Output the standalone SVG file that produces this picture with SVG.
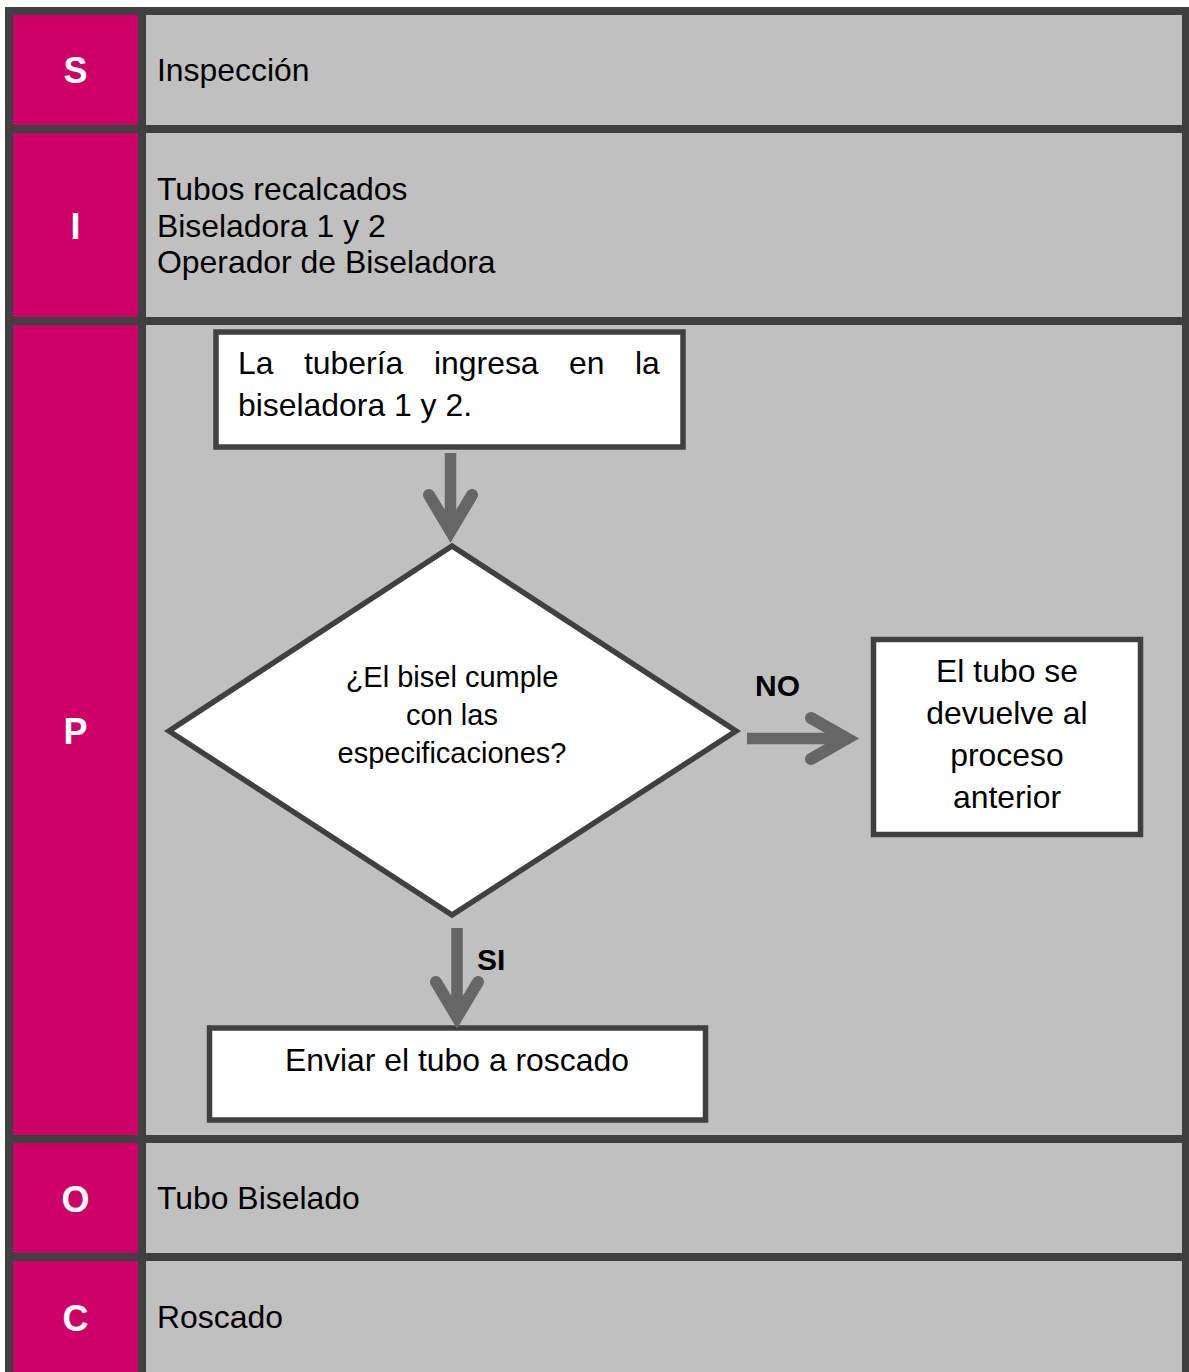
<svg xmlns="http://www.w3.org/2000/svg" width="1189" height="1372" viewBox="0 0 1189 1372">
  <style>
    .frame { fill: #404040; }
    .tag { fill: #CC0066; }
    .cell { fill: #C0C0C0; }
    .tagtxt { font-family: "Liberation Sans", Arial, sans-serif; font-weight: bold; font-size: 36px; fill: #FFFFFF; text-anchor: middle; }
    .celltxt { font-family: "Liberation Sans", Arial, sans-serif; font-size: 31.9px; fill: #000000; }
    .box { fill: #FFFFFF; stroke: #404040; stroke-width: 5.5; }
    .boxtxt { font-family: "Liberation Sans", Arial, sans-serif; font-size: 31.9px; fill: #000000; }
    .dtxt { font-family: "Liberation Sans", Arial, sans-serif; font-size: 29px; fill: #000000; text-anchor: middle; }
    .lbl { font-family: "Liberation Sans", Arial, sans-serif; font-weight: bold; font-size: 30px; fill: #000000; }
    .shaft { stroke: #666666; stroke-width: 11.5; fill: none; }
    .head { stroke: #666666; stroke-width: 12; fill: none; stroke-linecap: round; stroke-linejoin: miter; stroke-miterlimit: 10; }
  </style>

  <!-- SIPOC frame -->
  <rect class="frame" x="5" y="7" width="1184" height="1365"/>

  <g id="row-s">
    <rect class="tag" x="13" y="15" width="125" height="110"/>
    <rect class="cell" x="146" y="15" width="1036" height="110"/>
    <text class="tagtxt" x="75.5" y="83">S</text>
    <text class="celltxt" x="157" y="81">Inspección</text>
  </g>

  <g id="row-i">
    <rect class="tag" x="13" y="133" width="125" height="184"/>
    <rect class="cell" x="146" y="133" width="1036" height="184"/>
    <text class="tagtxt" x="75.5" y="239">I</text>
    <text class="celltxt" x="157" y="200">Tubos recalcados</text>
    <text class="celltxt" x="157" y="237">Biseladora 1 y 2</text>
    <text class="celltxt" x="157" y="273">Operador de Biseladora</text>
  </g>

  <g id="row-p">
    <rect class="tag" x="13" y="325" width="125" height="810"/>
    <rect class="cell" x="146" y="325" width="1036" height="810"/>
    <text class="tagtxt" x="75.5" y="744">P</text>
  </g>

  <g id="row-o">
    <rect class="tag" x="13" y="1143" width="125" height="110"/>
    <rect class="cell" x="146" y="1143" width="1036" height="110"/>
    <text class="tagtxt" x="75.5" y="1212">O</text>
    <text class="celltxt" x="157" y="1209">Tubo Biselado</text>
  </g>

  <g id="row-c">
    <rect class="tag" x="13" y="1261" width="125" height="111"/>
    <rect class="cell" x="146" y="1261" width="1036" height="111"/>
    <text class="tagtxt" x="75.5" y="1331">C</text>
    <text class="celltxt" x="157" y="1328">Roscado</text>
  </g>

  <!-- process flow -->
  <g id="step-ingreso">
    <rect class="box" x="216" y="332" width="467" height="115"/>
    <text class="boxtxt" y="374">
      <tspan x="238">La</tspan>
      <tspan x="304">tubería</tspan>
      <tspan x="434">ingresa</tspan>
      <tspan x="569">en</tspan>
      <tspan x="635">la</tspan>
    </text>
    <text class="boxtxt" x="238" y="416">biseladora 1 y 2.</text>
  </g>

  <g id="decision-bisel">
    <polygon class="box" points="452,546 736,731 452,915 169,731"/>
    <text class="dtxt" x="452" y="687">¿El bisel cumple</text>
    <text class="dtxt" x="452" y="725">con las</text>
    <text class="dtxt" x="452" y="763">especificaciones?</text>
  </g>

  <g id="step-devuelve">
    <rect class="box" x="873.5" y="639.5" width="267" height="195"/>
    <text class="boxtxt" x="1007" y="682" text-anchor="middle">El tubo se</text>
    <text class="boxtxt" x="1007" y="724" text-anchor="middle">devuelve al</text>
    <text class="boxtxt" x="1007" y="766" text-anchor="middle">proceso</text>
    <text class="boxtxt" x="1007" y="808" text-anchor="middle">anterior</text>
  </g>

  <g id="step-roscado">
    <rect class="box" x="209.5" y="1028" width="496" height="92"/>
    <text class="boxtxt" x="457" y="1071" text-anchor="middle">Enviar el tubo a roscado</text>
  </g>

  <g id="connectors">
    <line class="shaft" x1="450.5" y1="453" x2="450.5" y2="528"/>
    <path class="head" d="M429,495 L450.5,531 L472,495"/>

    <line class="shaft" x1="747" y1="738.5" x2="845" y2="738.5"/>
    <path class="head" d="M811,718 L847,738.5 L811,759"/>
    <text class="lbl" x="755" y="696">NO</text>

    <line class="shaft" x1="457" y1="928" x2="457" y2="1014"/>
    <path class="head" d="M436,982 L457,1017 L478,982"/>
    <text class="lbl" x="477" y="970">SI</text>
  </g>
</svg>
